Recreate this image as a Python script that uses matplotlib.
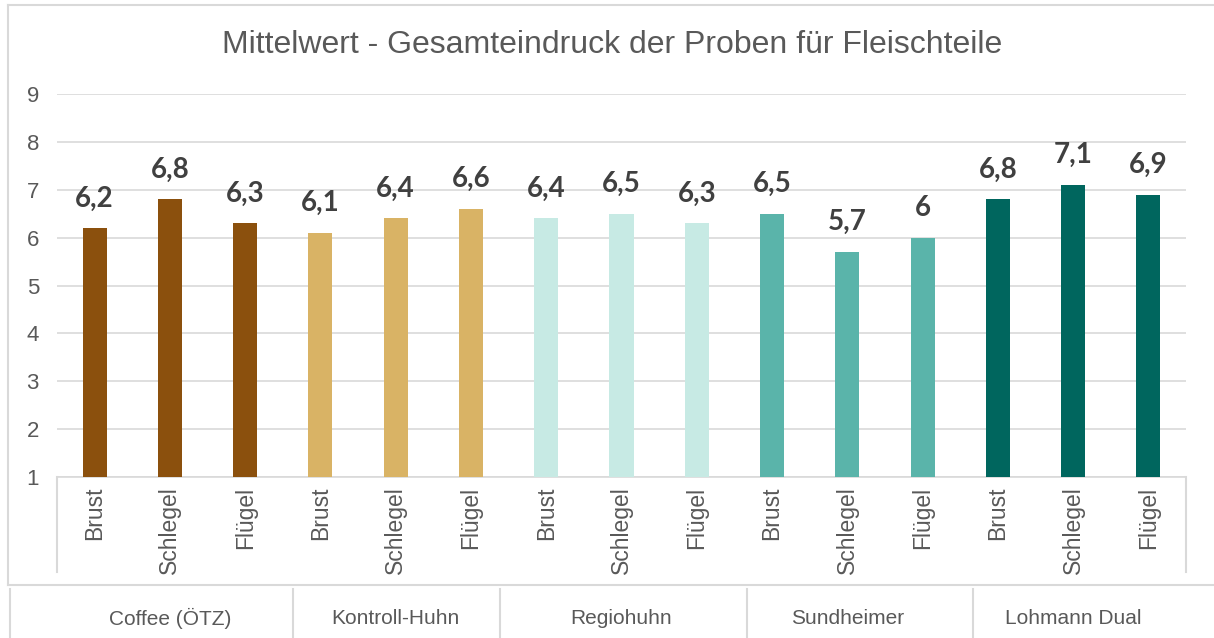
import matplotlib
matplotlib.use("Agg")
import matplotlib.pyplot as plt
from matplotlib.lines import Line2D
import matplotlib.transforms as mtransforms

plt.rcParams['font.family'] = ['Liberation Sans', 'DejaVu Sans']

groups = ['Coffee (ÖTZ)', 'Kontroll-Huhn', 'Regiohuhn', 'Sundheimer', 'Lohmann Dual']
parts = ['Brust', 'Schlegel', 'Flügel']
values = [6.2, 6.8, 6.3,
          6.1, 6.4, 6.6,
          6.4, 6.5, 6.3,
          6.5, 5.7, 6.0,
          6.8, 7.1, 6.9]
group_colors = ['#8B500D', '#D9B365', '#C7EAE4', '#5AB4AA', '#00665E']

fig = plt.figure(figsize=(12.14, 6.38), dpi=100)
ax = fig.add_axes([57 / 1214, 1 - 477 / 638, 1129 / 1214, 383 / 638])

n = len(values)
x = list(range(n))
colors = [group_colors[i // 3] for i in range(n)]
bars = ax.bar(x, values, width=0.32, bottom=0, color=colors, zorder=3)

for xi, v in zip(x, values):
    txt = ('%g' % v).replace('.', ',')
    ax.annotate(txt, (xi, v), xytext=(0, 12), textcoords='offset points',
                ha='center', va='bottom', fontsize=20, fontweight='bold',
                color='#404040', family=['Lato', 'DejaVu Sans'])

ax.set_xlim(-0.5, n - 0.5)
ax.set_ylim(1, 9)
ax.set_yticks(range(1, 10))
ax.grid(axis='y', color='#D9D9D9', linewidth=1.2, zorder=0)
for s in ['left', 'right', 'top']:
    ax.spines[s].set_visible(False)
ax.spines['bottom'].set_color('#D9D9D9')
ax.spines['bottom'].set_linewidth(1.2)
ax.tick_params(axis='y', length=0, pad=13, labelsize=16, labelcolor='#595959')
ax.tick_params(axis='x', length=0, pad=7, labelsize=16.5, labelcolor='#595959')
ax.set_xticks(x)
ax.set_xticklabels([parts[i % 3] for i in range(n)], rotation=90, va='top')

# group labels under the chart
trans = mtransforms.blended_transform_factory(ax.transData, fig.transFigure)
for gi, g in enumerate(groups):
    ax.text(gi * 3 + 1, 1 - 618 / 638, g, transform=trans, ha='center', va='center',
            fontsize=15, color='#595959', clip_on=False)

# category area borders and chart frame
W, H = 1214, 638
def fig_line(x0, y0, x1, y1):
    fig.add_artist(Line2D([x0 / W, x1 / W], [1 - y0 / H, 1 - y1 / H],
                          color='#D9D9D9', linewidth=1.5))

fig_line(57, 477, 57, 572)
fig_line(1186, 477, 1186, 572)
fig_line(8, 5, 1214, 5)
fig_line(8, 5, 8, 585)
fig_line(8, 585, 1214, 585)
for sx in [10, 293, 500, 747, 973]:
    fig_line(sx, 589, sx, 638)

fig.text(612 / W, 1 - 45 / H, 'Mittelwert - Gesamteindruck der Proben für Fleischteile',
         ha='center', va='center', fontsize=23, color='#595959')

fig.savefig('out.png', dpi=100)
